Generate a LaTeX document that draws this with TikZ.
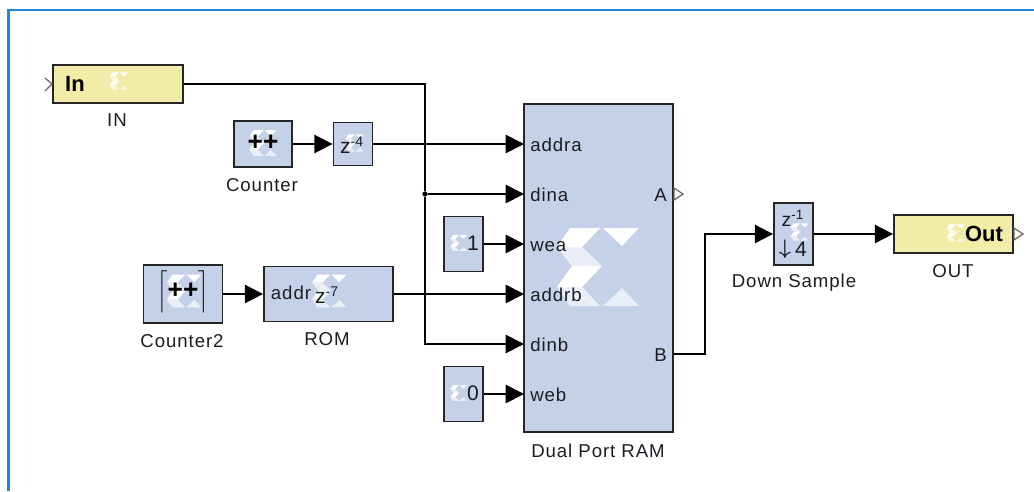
\documentclass[tikz,border=0pt]{standalone}
\usepackage{fontspec}
\setmainfont{Liberation Sans}
\usepackage{xcolor}
\usepackage{tikz}
\usetikzlibrary{arrows.meta}
\definecolor{blockblue}{HTML}{C5D1E8}
\definecolor{blockyellow}{HTML}{F1ECA8}
\definecolor{framecolor}{HTML}{1E86D6}
\definecolor{inkcolor}{HTML}{1C1C24}
\tikzset{
  block/.style={draw=black!85, line width=1.05pt, fill=blockblue, inner sep=0pt},
  gateway/.style={block, fill=blockyellow},
  caption/.style={text=inkcolor, inner sep=0pt, font=\fontsize{10.6}{13}\selectfont\addfontfeature{LetterSpace=5}},
  glyph/.style={text=inkcolor, inner sep=0pt, font=\fontsize{12}{14}\selectfont},
  strong/.style={text=black, inner sep=0pt, font=\fontsize{12.5}{14}\selectfont\bfseries},
  pluses/.style={text=black, inner sep=0pt, font=\fontsize{15}{16}\selectfont\bfseries},
  portin/.style={caption, anchor=west, inner xsep=3.4pt, text height=8pt, text depth=0pt},
  portout/.style={caption, anchor=east, inner xsep=3.4pt, text height=8pt, text depth=0pt},
  wire/.style={line width=1.05pt, draw=black},
  feed/.style={wire, -{Triangle[length=10.4pt,width=10.4pt]}},
  junction/.style={circle, fill=black, inner sep=0pt, minimum size=3pt},
  chevron/.style={line width=0.7pt, draw=black!60},
  xlogo/.pic={
    \fill[white] (-25,-39) -- (5,-39) -- (-13,-20) -- (-38,-20) -- cycle;
    \fill[white] (-23,-1) -- (7,-1) -- (-13,20) -- (-38,20) -- cycle;
    \fill[white] (8,-39) -- (44,-39) -- (27,-21) -- cycle;
    \fill[white, opacity=0.65] (-38,-20) -- (-13,-20) -- (7,-1) -- (-23,-1) -- cycle;
    \fill[white, opacity=0.65] (-38,20) -- (-13,20) -- (5,39) -- (-25,39) -- cycle;
    \fill[white, opacity=0.65] (8,39) -- (44,39) -- (27,21) -- cycle;
  }
}

\begin{document}
\begin{tikzpicture}[x=0.02cm, y=-0.02cm]
    \useasboundingbox (0,0) rectangle (1034,491);

    % Window frame
    \draw[framecolor, line width=1.6pt] (1034,10) -- (8.5,10) -- (8.5,491);

    % Gateway in
    \node[gateway, minimum width=2.6cm, minimum height=0.76cm] (in) at (118,84) {};
    \pic[scale=0.22] at (118,81) {xlogo};
    \node[strong] (intext) at (75,83.5) {In};
    \node[caption] (inlabel) at (117,120) {IN};
    \draw[chevron] (45,78) -- (52,84) -- (45,91);

    % Counter and delay
    \node[block, minimum width=1.16cm, minimum height=0.92cm] (counter) at (263,144) {};
    \pic[scale=0.33] at (262,143) {xlogo};
    \node[pluses] (countertext) at (263,143) {++};
    \node[caption] (counterlabel) at (262,185) {Counter};
    \node[block, minimum width=0.78cm, minimum height=0.86cm] (delay) at (353,144) {};
    \pic[scale=0.22] at (354,143) {xlogo};
    \node[glyph] (delaytext) at (352,145) {z\textsuperscript{-4}};

    % Counter2 and ROM
    \node[block, minimum width=1.58cm, minimum height=1.16cm] (countertwo) at (183,294) {};
    \pic[scale=0.42] at (183,291) {xlogo};
    \node[pluses] (countertwotext) at (183,292) {$\biggl\lceil$++$\biggr\rceil$};
    \node[caption] (countertwolabel) at (182,341) {Counter2};
    \node[block, minimum width=2.58cm, minimum height=1.1cm] (rom) at (328.5,294) {};
    \pic[scale=0.42] at (328,291) {xlogo};
    \node[caption] (romaddr) at (291,293) {addr};
    \node[glyph] (romtext) at (327,295) {z\textsuperscript{-7}};
    \node[caption] (romlabel) at (327,339) {ROM};

    % Constants
    \node[block, minimum width=0.78cm, minimum height=1.1cm] (constone) at (463.5,244) {};
    \pic[scale=0.2] at (458,243) {xlogo};
    \node[glyph] (constonetext) at (473,243) {1};
    \node[block, minimum width=0.78cm, minimum height=1.1cm] (constzero) at (463.5,394) {};
    \pic[scale=0.2] at (458,393) {xlogo};
    \node[glyph] (constzerotext) at (473,393) {0};

    % Dual port memory
    \node[block, minimum width=2.98cm, minimum height=6.56cm] (ram) at (598.5,268) {};
    \pic at (595,267) {xlogo};
    \node[portin] (addra) at (524,144) {addra};
    \node[portin] (dina) at (524,194) {dina};
    \node[portin] (wea) at (524,244) {wea};
    \node[portin] (addrb) at (524,294) {addrb};
    \node[portin] (dinb) at (524,344) {dinb};
    \node[portin] (web) at (524,394) {web};
    \node[portout] (porta) at (673,194) {A};
    \node[portout] (portb) at (673,354) {B};
    \node[caption] (ramlabel) at (598,451) {Dual Port RAM};
    \draw[chevron, fill=white] (674,188) -- (683,194) -- (674,200) -- cycle;

    % Down sampler
    \node[block, minimum width=0.78cm, minimum height=1.24cm] (down) at (793.5,234) {};
    \pic[scale=0.22] at (799,232) {xlogo};
    \node[glyph, font=\fontsize{11}{12}\selectfont] (downtop) at (793,218) {z\textsuperscript{-1}};
    \node[glyph, font=\fontsize{13}{13}\selectfont] (downarrow) at (785,249) {{\boldmath$\downarrow$}};
    \node[glyph] (downfour) at (801,249) {4};
    \node[caption] (downlabel) at (794,283) {Down Sample};

    % Gateway out
    \node[gateway, minimum width=2.38cm, minimum height=0.76cm] (out) at (953.5,234) {};
    \pic[scale=0.22] at (955,233) {xlogo};
    \node[strong] (outtext) at (984,234) {Out};
    \node[caption] (outlabel) at (953,271) {OUT};
    \draw[chevron, fill=white] (1014,228) -- (1023,234) -- (1014,240) -- cycle;

    % Wires
    \node[junction] (tap) at (425,194) {};
    \coordinate (turnb) at (705,354);
    \draw[wire] (in.east) -| (tap);
    \draw[feed] (tap) -- (dina.west);
    \draw[feed] (tap) |- (dinb.west);
    \draw[feed] (counter) -- (delay);
    \draw[feed] (delay) -- (addra.west);
    \draw[feed] (countertwo) -- (rom);
    \draw[feed] (rom) -- (addrb.west);
    \draw[feed] (constone) -- (wea.west);
    \draw[feed] (constzero) -- (web.west);
    \draw[feed] (portb.east) -- (turnb) |- (down.west);
    \draw[feed] (down) -- (out.west);
\end{tikzpicture}
\end{document}
